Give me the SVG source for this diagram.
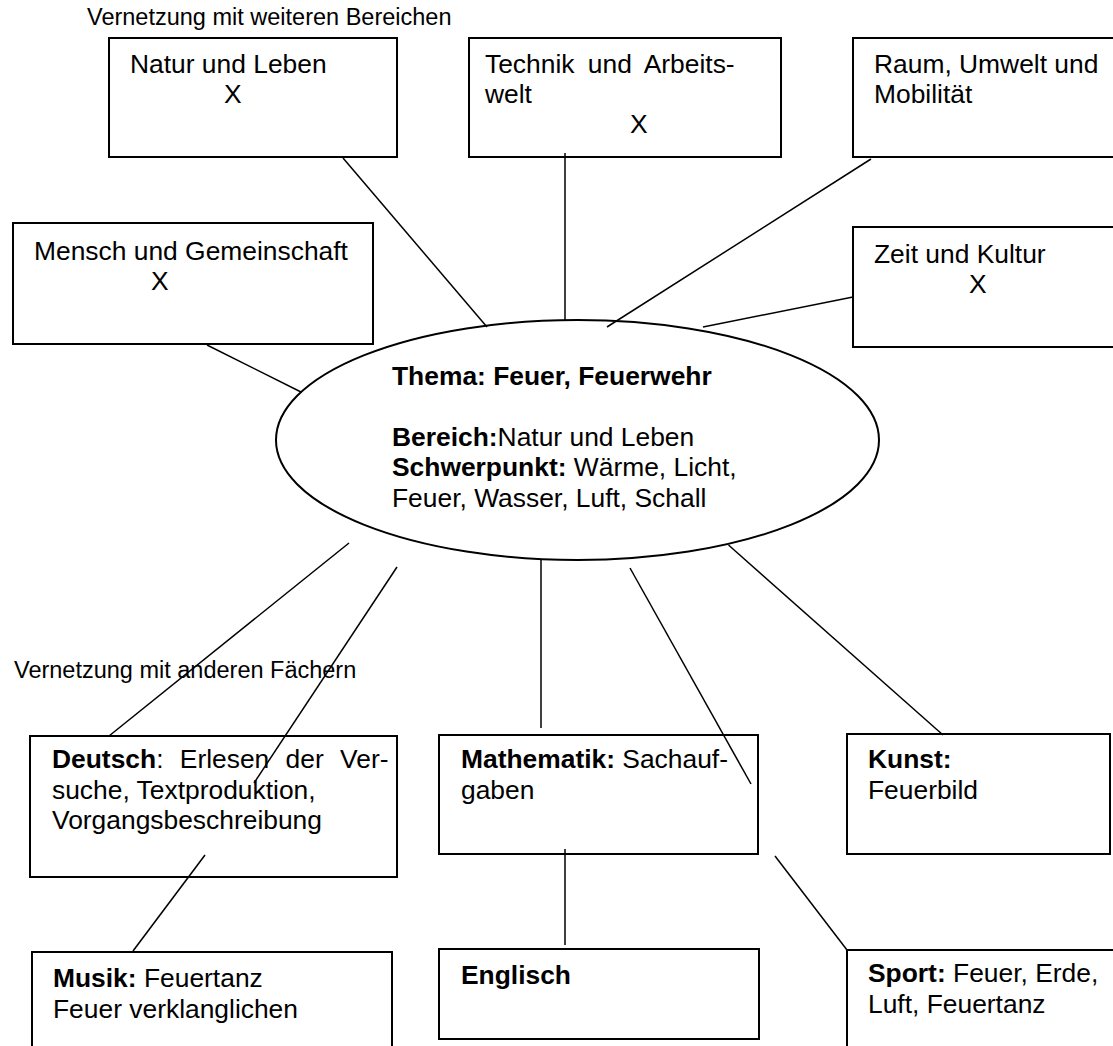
<svg xmlns="http://www.w3.org/2000/svg" width="1113" height="1046" viewBox="0 0 1113 1046">
<style>
  text { font-family: "Liberation Sans", Arial, sans-serif; fill: #000; }
  .t { font-size: 26.4px; }
  .lbl { font-size: 23.5px; }
  .b { font-weight: bold; }
  .box { fill: #fff; stroke: #000; stroke-width: 2; }
  .ell { fill: #fff; stroke: #000; stroke-width: 2; }
  .con line { stroke: #000; stroke-width: 1.5; }
</style>
<rect x="0" y="0" width="1113" height="1046" fill="#fff"/>

<text class="lbl" x="87" y="25">Vernetzung mit weiteren Bereichen</text>
<text class="lbl" x="14" y="678">Vernetzung mit anderen Fächern</text>

<g id="natur">
  <rect class="box" x="109" y="38" width="288" height="119"/>
  <text class="t" x="130" y="73">Natur und Leben</text>
  <text class="t" x="224" y="103">X</text>
</g>
<g id="technik">
  <rect class="box" x="469" y="38" width="312" height="119"/>
  <text class="t" x="485" y="73" word-spacing="6">Technik und Arbeits-</text>
  <text class="t" x="485" y="103">welt</text>
  <text class="t" x="630" y="133">X</text>
</g>
<g id="raum">
  <rect class="box" x="853" y="38" width="270" height="119"/>
  <text class="t" x="874" y="73">Raum, Umwelt und</text>
  <text class="t" x="874" y="103">Mobilität</text>
</g>
<g id="mensch">
  <rect class="box" x="13" y="223" width="360" height="121"/>
  <text class="t" x="34" y="260">Mensch und Gemeinschaft</text>
  <text class="t" x="151" y="290">X</text>
</g>
<g id="zeit">
  <rect class="box" x="853" y="227" width="270" height="120"/>
  <text class="t" x="874" y="263">Zeit und Kultur</text>
  <text class="t" x="969" y="293">X</text>
</g>

<g id="thema">
  <ellipse class="ell" cx="577.5" cy="440" rx="301.5" ry="120"/>
  <text class="t b" x="392" y="385">Thema: Feuer, Feuerwehr</text>
  <text class="t" x="392" y="446"><tspan class="b">Bereich:</tspan>Natur und Leben</text>
  <text class="t" x="392" y="476"><tspan class="b">Schwerpunkt:</tspan> Wärme, Licht,</text>
  <text class="t" x="392" y="507">Feuer, Wasser, Luft, Schall</text>
</g>

<g id="deutsch">
  <rect class="box" x="30" y="736" width="367" height="141"/>
  <text class="t" x="52" y="768" word-spacing="9"><tspan class="b">Deutsch</tspan>: Erlesen der Ver-</text>
  <text class="t" x="52" y="799">suche, Textproduktion,</text>
  <text class="t" x="52" y="829">Vorgangsbeschreibung</text>
</g>
<g id="mathematik">
  <rect class="box" x="439" y="735" width="319" height="119"/>
  <text class="t" x="461" y="768"><tspan class="b">Mathematik:</tspan> Sachauf-</text>
  <text class="t" x="461" y="799">gaben</text>
</g>
<g id="kunst">
  <rect class="box" x="847" y="734" width="263" height="120"/>
  <text class="t b" x="868" y="768">Kunst:</text>
  <text class="t" x="868" y="799">Feuerbild</text>
</g>
<g id="musik">
  <rect class="box" x="32" y="952" width="360" height="110"/>
  <text class="t" x="53" y="987"><tspan class="b">Musik:</tspan> Feuertanz</text>
  <text class="t" x="53" y="1018">Feuer verklanglichen</text>
</g>
<g id="englisch">
  <rect class="box" x="439" y="949" width="320" height="90"/>
  <text class="t b" x="461" y="984">Englisch</text>
</g>
<g id="sport">
  <rect class="box" x="847" y="950" width="280" height="110"/>
  <text class="t" x="868" y="982"><tspan class="b">Sport:</tspan> Feuer, Erde,</text>
  <text class="t" x="868" y="1013">Luft, Feuertanz</text>
</g>

<g id="connectors" class="con">
  <line x1="343" y1="158" x2="487" y2="327"/>
  <line x1="565" y1="153" x2="565" y2="320"/>
  <line x1="871" y1="159" x2="607" y2="327"/>
  <line x1="853" y1="297" x2="703" y2="327"/>
  <line x1="207" y1="345" x2="301" y2="392"/>
  <line x1="349" y1="543" x2="109" y2="736"/>
  <line x1="397" y1="567" x2="254" y2="783"/>
  <line x1="541" y1="560" x2="541" y2="728"/>
  <line x1="630" y1="568" x2="751" y2="784"/>
  <line x1="728.5" y1="545" x2="943" y2="735"/>
  <line x1="205" y1="855" x2="133" y2="951"/>
  <line x1="565" y1="849" x2="565" y2="945"/>
  <line x1="775" y1="856" x2="847" y2="950"/>
</g>
</svg>
